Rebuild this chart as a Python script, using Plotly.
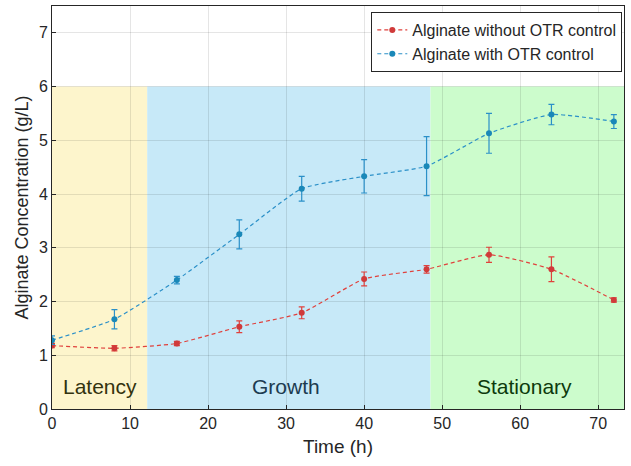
import plotly.graph_objects as go

time_h = [0, 8, 16, 24, 32, 40, 48, 56, 64, 72]
without_otr = [1.18, 1.13, 1.22, 1.53, 1.79, 2.42, 2.60, 2.87, 2.60, 2.03]
without_err = [0.04, 0.05, 0.04, 0.11, 0.11, 0.13, 0.07, 0.14, 0.23, 0.04]
with_otr = [1.28, 1.67, 2.40, 3.25, 4.10, 4.33, 4.52, 5.13, 5.48, 5.35]
with_err = [0.08, 0.18, 0.07, 0.27, 0.23, 0.31, 0.55, 0.37, 0.19, 0.13]

phase_names = ["Latency", "Growth", "Stationary"]
phase_start = [0, 12.2, 48.5]
phase_end = [12.2, 48.5, 73.3]
phase_fill = ["#fdf5cc", "#c7e9f8", "#ccfccc"]
phase_text = ["#33330f", "#1c3b50", "#0c3a0c"]
phase_label_x = [6.1, 30, 60.5]

red = "#e0413c"
blue = "#2b90c8"

fig = go.Figure()
fig.add_trace(go.Scatter(
    x=time_h, y=without_otr, name="Alginate without OTR control",
    mode="lines+markers", line=dict(color=red, dash="4px,3px", width=1.2, shape="spline", smoothing=0.5),
    marker=dict(color="#d03a3a", size=6),
    error_y=dict(type="data", array=without_err, color=red, thickness=1.2, width=3),
))
fig.add_trace(go.Scatter(
    x=time_h, y=with_otr, name="Alginate with OTR control",
    mode="lines+markers", line=dict(color=blue, dash="4px,3px", width=1.2, shape="spline", smoothing=0.5),
    marker=dict(color="#1a88b8", size=6),
    error_y=dict(type="data", array=with_err, color=blue, thickness=1.2, width=3),
))

for s, e, c in zip(phase_start, phase_end, phase_fill):
    fig.add_shape(type="rect", x0=s, x1=e, y0=0, y1=6, fillcolor=c, line=dict(width=0), layer="below")
for n, xl, tc in zip(phase_names, phase_label_x, phase_text):
    fig.add_annotation(x=xl, y=0.42, text=n, showarrow=False, font=dict(size=21, color=tc))

axis_common = dict(showline=True, linecolor="#262626", linewidth=1, mirror=True,
                   ticks="inside", ticklen=4, tickcolor="#262626",
                   showgrid=True, gridcolor="rgba(0,0,0,0.1)", zeroline=False,
                   tickfont=dict(size=16, color="#262626"))
fig.update_xaxes(range=[0, 73.3], dtick=10, title=dict(text="Time (h)", font=dict(size=19, color="#262626"), standoff=8), **axis_common)
fig.update_yaxes(range=[0, 7.5], dtick=1, title=dict(text="Alginate Concentration (g/L)", font=dict(size=18, color="#262626"), standoff=5), **axis_common)

fig.update_layout(
    width=631, height=466,
    margin=dict(l=52, r=7, t=6, b=57),
    paper_bgcolor="white", plot_bgcolor="white",
    font=dict(family="Liberation Sans, Arial, sans-serif", color="#262626"),
    legend=dict(x=0.997, y=0.985, xanchor="right", yanchor="top",
                bgcolor="white", bordercolor="#262626", borderwidth=1,
                font=dict(size=16), tracegroupgap=0, itemwidth=30),
)

fig.write_html("out.html")
